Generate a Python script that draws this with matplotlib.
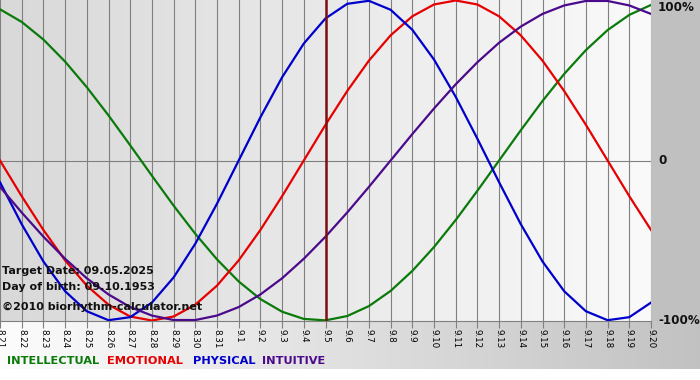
import numpy as np
import matplotlib
matplotlib.use("Agg")
import matplotlib.pyplot as plt
from matplotlib.patches import Rectangle

# ---- data ----
dates = ["8.21", "8.22", "8.23", "8.24", "8.25", "8.26", "8.27", "8.28", "8.29", "8.30",
         "8.31", "9.1", "9.2", "9.3", "9.4", "9.5", "9.6", "9.7", "9.8", "9.9", "9.10",
         "9.11", "9.12", "9.13", "9.14", "9.15", "9.16", "9.17", "9.18", "9.19", "9.20"]
intellectual = [0.945, 0.866, 0.756, 0.618, 0.458, 0.282, 0.095, -0.095, -0.282, -0.458,
                -0.618, -0.756, -0.866, -0.945, -0.990, -0.999, -0.972, -0.910, -0.815, -0.690,
                -0.541, -0.372, -0.189, 0.000, 0.189, 0.372, 0.541, 0.690, 0.815, 0.910, 0.972]
emotional = [0.000, -0.223, -0.434, -0.624, -0.782, -0.901, -0.975, -1.000, -0.975, -0.901,
             -0.782, -0.624, -0.434, -0.223, 0.000, 0.223, 0.434, 0.624, 0.782, 0.901,
             0.975, 1.000, 0.975, 0.901, 0.782, 0.624, 0.434, 0.223, 0.000, -0.223, -0.434]
physical = [-0.136, -0.398, -0.631, -0.817, -0.942, -0.998, -0.979, -0.888, -0.731, -0.520,
            -0.270, 0.000, 0.270, 0.520, 0.731, 0.888, 0.979, 0.998, 0.942, 0.817,
            0.631, 0.398, 0.136, -0.136, -0.398, -0.631, -0.817, -0.942, -0.998, -0.979, -0.888]
intuitive = [-0.165, -0.325, -0.476, -0.614, -0.736, -0.837, -0.916, -0.969, -0.997, -0.997,
             -0.969, -0.916, -0.837, -0.736, -0.614, -0.476, -0.325, -0.165, 0.000, 0.165,
             0.325, 0.476, 0.614, 0.736, 0.837, 0.916, 0.969, 0.997, 0.997, 0.969, 0.916]
series_names = ["INTELLECTUAL", "EMOTIONAL", "PHYSICAL", "INTUITIVE"]
series_colors = ["#0a7a0a", "#e60000", "#0000cc", "#4b0a8c"]
target_label = "9.5"
y_tick_labels = ["100%", "0", "-100%"]
info_lines = ["Target Date: 09.05.2025", "Day of birth: 09.10.1953", "\u00a92010 biorhythm-calculator.net"]

W, H = 700, 380
fig = plt.figure(figsize=(W / 100, H / 100), dpi=100)
fig.patch.set_facecolor("white")

# background axes in pixel coordinates
bg = fig.add_axes([0, 0, 1, 1], zorder=0)
bg.set_xlim(0, W)
bg.set_ylim(H, 0)
bg.axis("off")
bg.add_patch(Rectangle((651, 0), W - 651, 321, color="#c0c0c0", lw=0))
grad = np.linspace(0.99, 0.76, 256).reshape(1, -1)
bg.imshow(np.dstack([grad, grad, grad]), extent=[0, W, 369, 321], aspect="auto", zorder=0)

# main plot axes
px_left, px_right, px_top, px_bottom = 0, 651, 0, 321
ax = fig.add_axes([px_left / W, 1 - px_bottom / H, (px_right - px_left) / W, (px_bottom - px_top) / H], zorder=1)
ax.set_facecolor("none")
n = len(dates)
x = np.arange(n)
ax.set_xlim(0, n - 1)
ax.set_ylim(-1.003, 1.003)

pg = np.linspace(0.85, 0.98, 256).reshape(1, -1)
ax.imshow(np.dstack([pg, pg, pg]), extent=[0, n - 1, -1.003, 1.003], aspect="auto", zorder=0)

for xi in x:
    ax.axvline(xi, color="#808080", lw=0.8, zorder=1)
ax.axhline(0, color="#808080", lw=0.8, zorder=1)

for vals, col in zip([intellectual, emotional, physical, intuitive], series_colors):
    ax.plot(x, vals, color=col, lw=1.6, zorder=3, solid_joinstyle="round")

ti = dates.index(target_label)
ax.axvline(ti, color="#7a1010", lw=1.8, zorder=4)

for s in ["top", "right", "left"]:
    ax.spines[s].set_visible(False)
ax.spines["bottom"].set_color("#808080")
ax.spines["bottom"].set_linewidth(0.8)

ax.set_yticks([])
ax.set_xticks(x)
ax.set_xticklabels(dates, rotation=270, fontsize=6.3, va="top", ha="center")
ax.tick_params(axis="x", length=5, width=0.8, color="#808080", pad=1)

# right side labels
for lab, yv in zip(y_tick_labels, [0.955, 0.0, -1.0]):
    ax.text(1.0107, yv, lab, transform=ax.get_yaxis_transform(), fontsize=8.6,
            fontweight="bold", va="center", ha="left", color="#111111", clip_on=False)

# overlay for texts
ov = fig.add_axes([0, 0, 1, 1], zorder=5)
ov.set_xlim(0, W)
ov.set_ylim(H, 0)
ov.axis("off")
for line, yp in zip(info_lines, [271.5, 287, 307]):
    ov.text(2, yp, line, fontsize=8.0, fontweight="bold", va="center", ha="left", color="#111111")

leg_x = [7, 107, 193, 262]
for name, col, lx in zip(series_names, series_colors, leg_x):
    ov.text(lx, 361.5, name, fontsize=8.2, fontweight="bold", color=col, va="center", ha="left")

fig.savefig("out.png", dpi=100)
